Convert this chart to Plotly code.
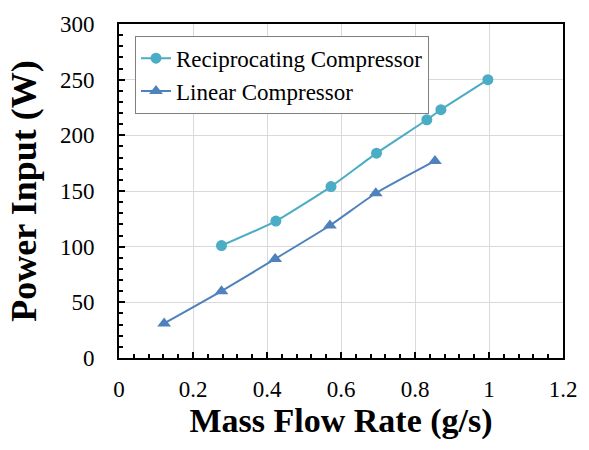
import plotly.graph_objects as go

recip_x = [0.277, 0.424, 0.573, 0.696, 0.832, 0.870, 0.997]
recip_y = [101, 123, 154, 184, 214, 223, 250]
lin_x = [0.122, 0.277, 0.422, 0.570, 0.694, 0.854]
lin_y = [31, 60, 89, 119, 148, 177]

fig = go.Figure()
fig.add_trace(go.Scatter(x=recip_x, y=recip_y, name="Reciprocating Compressor",
                         mode="lines+markers", line=dict(color="#4BACC6", width=2, shape="spline", smoothing=0.5),
                         marker=dict(symbol="circle", size=11, color="#4BACC6")))
fig.add_trace(go.Scatter(x=lin_x, y=lin_y, name="Linear Compressor",
                         mode="lines+markers", line=dict(color="#4F81BD", width=2, shape="spline", smoothing=0.5),
                         marker=dict(symbol="triangle-up", size=12, color="#4F81BD")))

font_family = "Liberation Serif"
fig.update_layout(
    width=589, height=450,
    margin=dict(l=119, r=18, t=14, b=92),
    plot_bgcolor="white", paper_bgcolor="white",
    font=dict(family=font_family, color="black", size=23),
    legend=dict(x=0.036, y=0.965, xanchor="left", yanchor="top",
                bordercolor="#7f7f7f", borderwidth=1, bgcolor="white",
                font=dict(size=23, family=font_family), tracegroupgap=0, itemwidth=30),
    xaxis=dict(range=[0, 1.2], dtick=0.2, showgrid=True, gridcolor="#d9d9d9", gridwidth=1,
               showline=True, linecolor="black", linewidth=2, mirror=True,
               ticks="inside", ticklen=6, tickwidth=2, tickcolor="black",
               minor=dict(dtick=0.04, ticks="inside", ticklen=4, tickwidth=1.5, tickcolor="black", showgrid=False),
               tickfont=dict(size=23), zeroline=False, ticklabelstandoff=9,
               title=dict(text="<b>Mass Flow Rate (g/s)</b>", font=dict(size=34), standoff=6)),
    yaxis=dict(range=[0, 300], dtick=50, showgrid=True, gridcolor="#d9d9d9", gridwidth=1,
               showline=True, linecolor="black", linewidth=2, mirror=True,
               ticks="inside", ticklen=6, tickwidth=2, tickcolor="black",
               minor=dict(dtick=10, ticks="inside", ticklen=4, tickwidth=1.5, tickcolor="black", showgrid=False),
               tickfont=dict(size=23), zeroline=False, ticklabelstandoff=18,
               title=dict(text="<b>Power Input (W)</b>", font=dict(size=36), standoff=12)),
)
fig.write_html("out.html")
